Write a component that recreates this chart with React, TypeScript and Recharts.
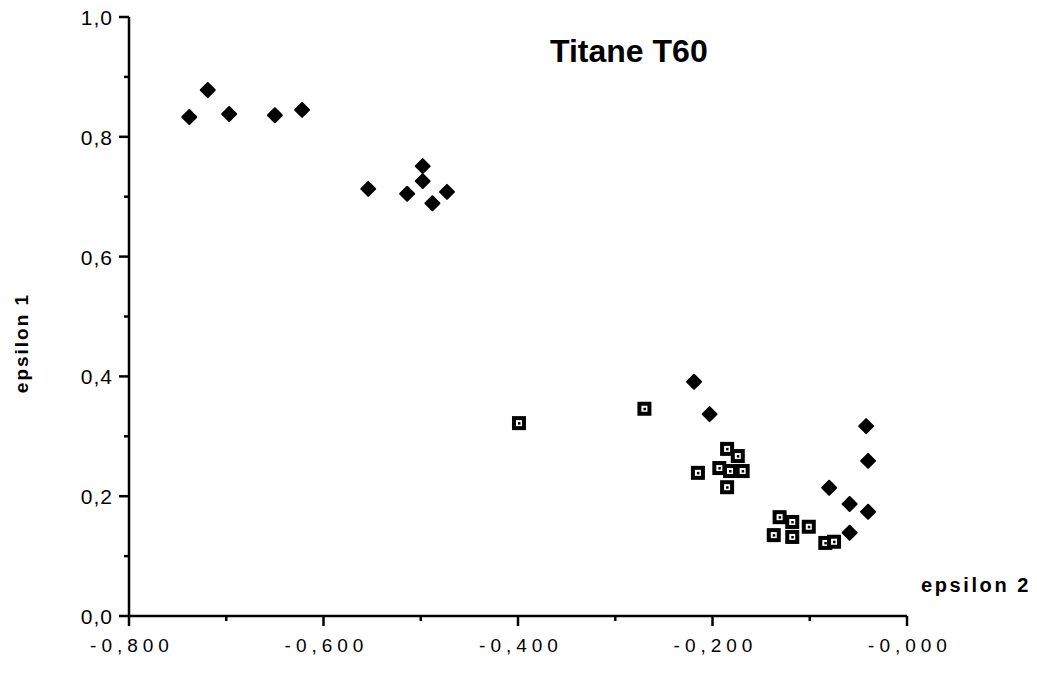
import { ScatterChart, Scatter, XAxis, YAxis } from 'recharts';

// filled diamonds
const diamondEps2 = [-0.738, -0.719, -0.697, -0.650, -0.622, -0.554, -0.514, -0.498, -0.498, -0.488, -0.473, -0.219, -0.203, -0.042, -0.040, -0.080, -0.059, -0.040, -0.059];
const diamondEps1 = [0.833, 0.878, 0.838, 0.836, 0.845, 0.713, 0.705, 0.751, 0.726, 0.689, 0.708, 0.391, 0.337, 0.317, 0.259, 0.214, 0.187, 0.174, 0.139];

// open squares
const squareEps2 = [-0.399, -0.270, -0.215, -0.185, -0.174, -0.193, -0.182, -0.169, -0.185, -0.131, -0.118, -0.101, -0.137, -0.118, -0.084, -0.075];
const squareEps1 = [0.322, 0.346, 0.239, 0.279, 0.267, 0.247, 0.242, 0.242, 0.215, 0.165, 0.157, 0.149, 0.135, 0.132, 0.122, 0.124];

const xTicks = [-0.8, -0.7, -0.6, -0.5, -0.4, -0.3, -0.2, -0.1, 0];
const yTicks = [0, 0.1, 0.2, 0.3, 0.4, 0.5, 0.6, 0.7, 0.8, 0.9, 1.0];

const diamonds = diamondEps2.map((x, i) => ({ x, y: diamondEps1[i] }));
const squares = squareEps2.map((x, i) => ({ x, y: squareEps1[i] }));

const isMajor = (v: number) => Math.abs(Math.round(v * 10) % 2) === 0;
const font = '"Liberation Sans", Arial, sans-serif';

const XTick = (props: any) => {
  const { x, y, payload } = props;
  const v = payload.value;
  const major = isMajor(v);
  return (
    <g>
      <line x1={x} x2={x} y1={y} y2={y + (major ? 10 : 5)} stroke="#000" strokeWidth={2.5} />
      {major && (
        <text x={x + 3} y={y + 36} textAnchor="middle" fontSize={19} letterSpacing={5} fontFamily={font} fill="#000">
          {'-' + Math.abs(v).toFixed(3).replace('.', ',')}
        </text>
      )}
    </g>
  );
};

const YTick = (props: any) => {
  const { x, y, payload } = props;
  const v = payload.value;
  const major = isMajor(v);
  return (
    <g>
      <line x1={x} x2={x - (major ? 10 : 5)} y1={y} y2={y} stroke="#000" strokeWidth={2.5} />
      {major && (
        <text x={x - 16} y={y + 8} textAnchor="end" fontSize={21} letterSpacing={1} fontFamily={font} fill="#000">
          {v.toFixed(1).replace('.', ',')}
        </text>
      )}
    </g>
  );
};

const Diamond = (props: any) => {
  const { cx, cy } = props;
  const r = 7;
  return (
    <polygon
      points={`${cx},${cy - r} ${cx + r},${cy} ${cx},${cy + r} ${cx - r},${cy}`}
      fill="#000"
      stroke="#000"
      strokeWidth={2}
      strokeLinejoin="round"
    />
  );
};

const OpenSquare = (props: any) => {
  const { cx, cy } = props;
  return (
    <g>
      <rect x={cx - 7} y={cy - 7} width={14} height={14} fill="#000" />
      <rect x={cx - 3} y={cy - 3} width={6} height={6} fill="#fff" />
      <rect x={cx - 1} y={cy - 1} width={2.5} height={2.5} fill="#000" />
    </g>
  );
};

export default function App() {
  return (
    <div style={{ position: 'absolute', left: 0, top: 0, width: 1037, height: 676, background: '#fff' }}>
      <ScatterChart width={1037} height={676} margin={{ top: 17, right: 130, bottom: 30, left: 69 }}>
        <XAxis
          type="number"
          dataKey="x"
          domain={[-0.8, 0]}
          ticks={xTicks}
          height={30}
          tickSize={0}
          tickMargin={0}
          tickLine={false}
          axisLine={{ stroke: '#000', strokeWidth: 2.5 }}
          tick={<XTick />}
          interval={0}
        />
        <YAxis
          type="number"
          dataKey="y"
          domain={[0, 1]}
          ticks={yTicks}
          width={60}
          tickSize={0}
          tickMargin={0}
          tickLine={false}
          axisLine={{ stroke: '#000', strokeWidth: 2.5 }}
          tick={<YTick />}
          interval={0}
        />
        <Scatter data={diamonds} shape={<Diamond />} isAnimationActive={false} />
        <Scatter data={squares} shape={<OpenSquare />} isAnimationActive={false} />
      </ScatterChart>
      <div style={{ position: 'absolute', left: 550, top: 33, fontFamily: font, fontWeight: 'bold', fontSize: 32, whiteSpace: 'nowrap' }}>
        Titane T60
      </div>
      <div style={{ position: 'absolute', left: 921, top: 574, fontFamily: font, fontWeight: 'bold', fontSize: 20, letterSpacing: 2.6, whiteSpace: 'nowrap' }}>
        epsilon 2
      </div>
      <div
        style={{
          position: 'absolute',
          left: 22,
          top: 343,
          transform: 'translate(-50%, -50%) rotate(-90deg)',
          fontFamily: font,
          fontWeight: 'bold',
          fontSize: 19,
          letterSpacing: 2,
          whiteSpace: 'nowrap',
        }}
      >
        epsilon 1
      </div>
    </div>
  );
}
